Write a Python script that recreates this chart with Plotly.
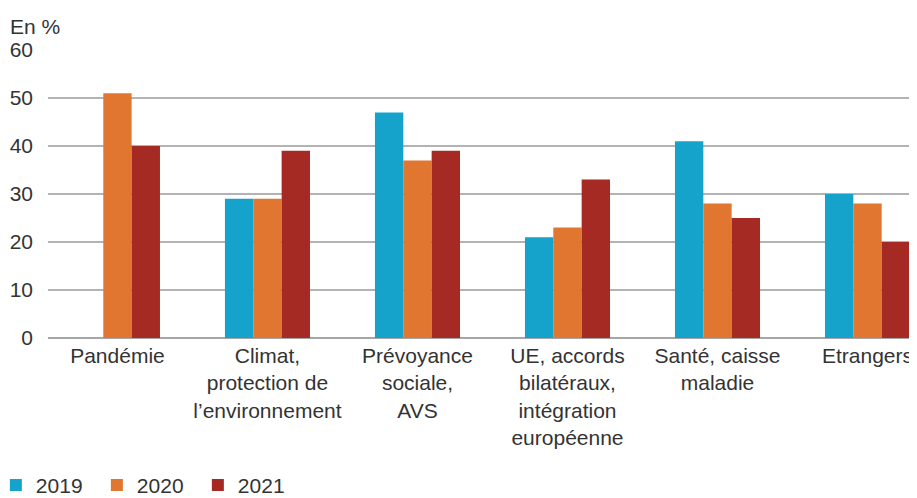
import plotly.graph_objects as go

categories = [
    "Pandémie",
    "Climat,<br>protection de<br>l’environnement",
    "Prévoyance<br>sociale,<br>AVS",
    "UE, accords<br>bilatéraux,<br>intégration<br>européenne",
    "Santé, caisse<br>maladie",
    "Etrangers",
]
v2019 = [None, 29, 47, 21, 41, 30]
v2020 = [51, 29, 37, 23, 28, 28]
v2021 = [40, 39, 39, 33, 25, 20]

series = [("2019", v2019, "#15a3cb"), ("2020", v2020, "#e07630"), ("2021", v2021, "#a52a24")]

fig = go.Figure()
for name, vals, col in series:
    fig.add_trace(go.Bar(x=categories, y=vals, name=name, marker_color=col,
                         marker_line_width=0,
                         hovertemplate="<b>%{x}</b><br>" + name + ": %{y} %<extra></extra>"))

# the page body adds an 8px margin, so the margins are shifted to compensate
fig.update_layout(
    width=917, height=498,
    margin=dict(l=40, r=8, t=42, b=168, autoexpand=False),
    paper_bgcolor="white", plot_bgcolor="white",
    font=dict(family="Liberation Sans, Arial, sans-serif", size=21, color="#333333"),
    barmode="group", bargap=0.433, bargroupgap=0,
    legend=dict(orientation="h", x=-0.06, xanchor="left", y=-0.512, yanchor="middle",
                entrywidth=56, font=dict(size=21), traceorder="normal"),
    annotations=[dict(text="En %", xref="paper", yref="paper", x=-0.046, y=1.08,
                      xanchor="left", yanchor="middle", showarrow=False,
                      font=dict(size=21, color="#333333"))],
)
fig.update_xaxes(range=[-0.463, 5.33], showgrid=False, showline=False, ticks="",
                 tickfont=dict(size=21), ticklabelstandoff=3, automargin=False)
fig.update_yaxes(range=[0, 60], dtick=10, showgrid=True, gridcolor="#b3b3b3", gridwidth=1.5,
                 zeroline=True, zerolinecolor="#a6a6a6", zerolinewidth=1.5,
                 showline=False, ticks="", tickfont=dict(size=21), ticklabelstandoff=14,
                 automargin=False)

fig.write_html("out.html")
